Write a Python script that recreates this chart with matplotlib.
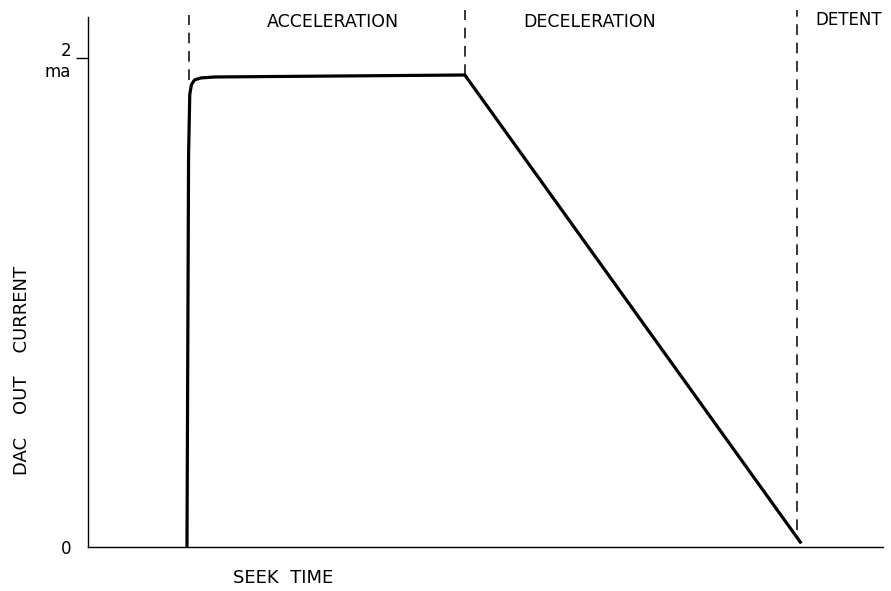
import numpy as np
import matplotlib.pyplot as plt

# DAC output current over one seek: fast rise, flat acceleration, linear ramp down
seek_time = [1.245, 1.265, 1.28, 1.30, 1.34, 1.42, 1.60, 4.74, 8.96]
dac_current = [0.0, 1.60, 1.85, 1.89, 1.91, 1.918, 1.922, 1.93, 0.02]

# phase boundaries (time) and how far up each marker reaches
phase_x = [1.27, 4.74, 8.92]
phase_y0 = [1.91, 1.93, 0.07]
phase_y1 = [2.176, 2.196, 2.196]

phase_names = ['ACCELERATION', 'DECELERATION', 'DETENT']
phase_text_x = [3.08, 6.31, 9.15]

fig = plt.figure(figsize=(8.91, 5.91), dpi=100)
ax = fig.add_axes([88/891, 44/591, 795/891, 539/591])

ax.plot(seek_time, dac_current, color='black', lw=2.3, solid_joinstyle='round')

for x, y0, y1 in zip(phase_x, phase_y0, phase_y1):
    ax.plot([x, x], [y0, y1], color='black', lw=1.1, dashes=(7, 5))

ax.text(phase_text_x[0], 2.147, phase_names[0], ha='center', va='center', fontsize=12.5)
ax.text(phase_text_x[1], 2.147, phase_names[1], ha='center', va='center', fontsize=12.5)
ax.text(phase_text_x[2], 2.155, phase_names[2], ha='left', va='center', fontsize=12)

ax.set_xlim(0, 10)
ax.set_ylim(0, 2.204)
ax.spines['top'].set_visible(False)
ax.spines['right'].set_visible(False)
ax.spines['left'].set_bounds(0, 2.168)
ax.spines['left'].set_linewidth(1.0)
ax.spines['bottom'].set_linewidth(1.0)

ax.set_xticks([])
ax.set_yticks([0, 2], ['0', '2\nma'])
ax.tick_params(axis='y', length=9, width=1.0, pad=3, labelsize=12)
ax.yaxis.get_major_ticks()[0].tick1line.set_visible(False)

fig.text(283/891, 1 - 578/591, 'SEEK  TIME', ha='center', va='center', fontsize=13)
fig.text(22/891, 1 - 370/591, 'DAC    OUT    CURRENT', ha='center', va='center',
         rotation=90, fontsize=13)

fig.savefig('out.png', dpi=100)
